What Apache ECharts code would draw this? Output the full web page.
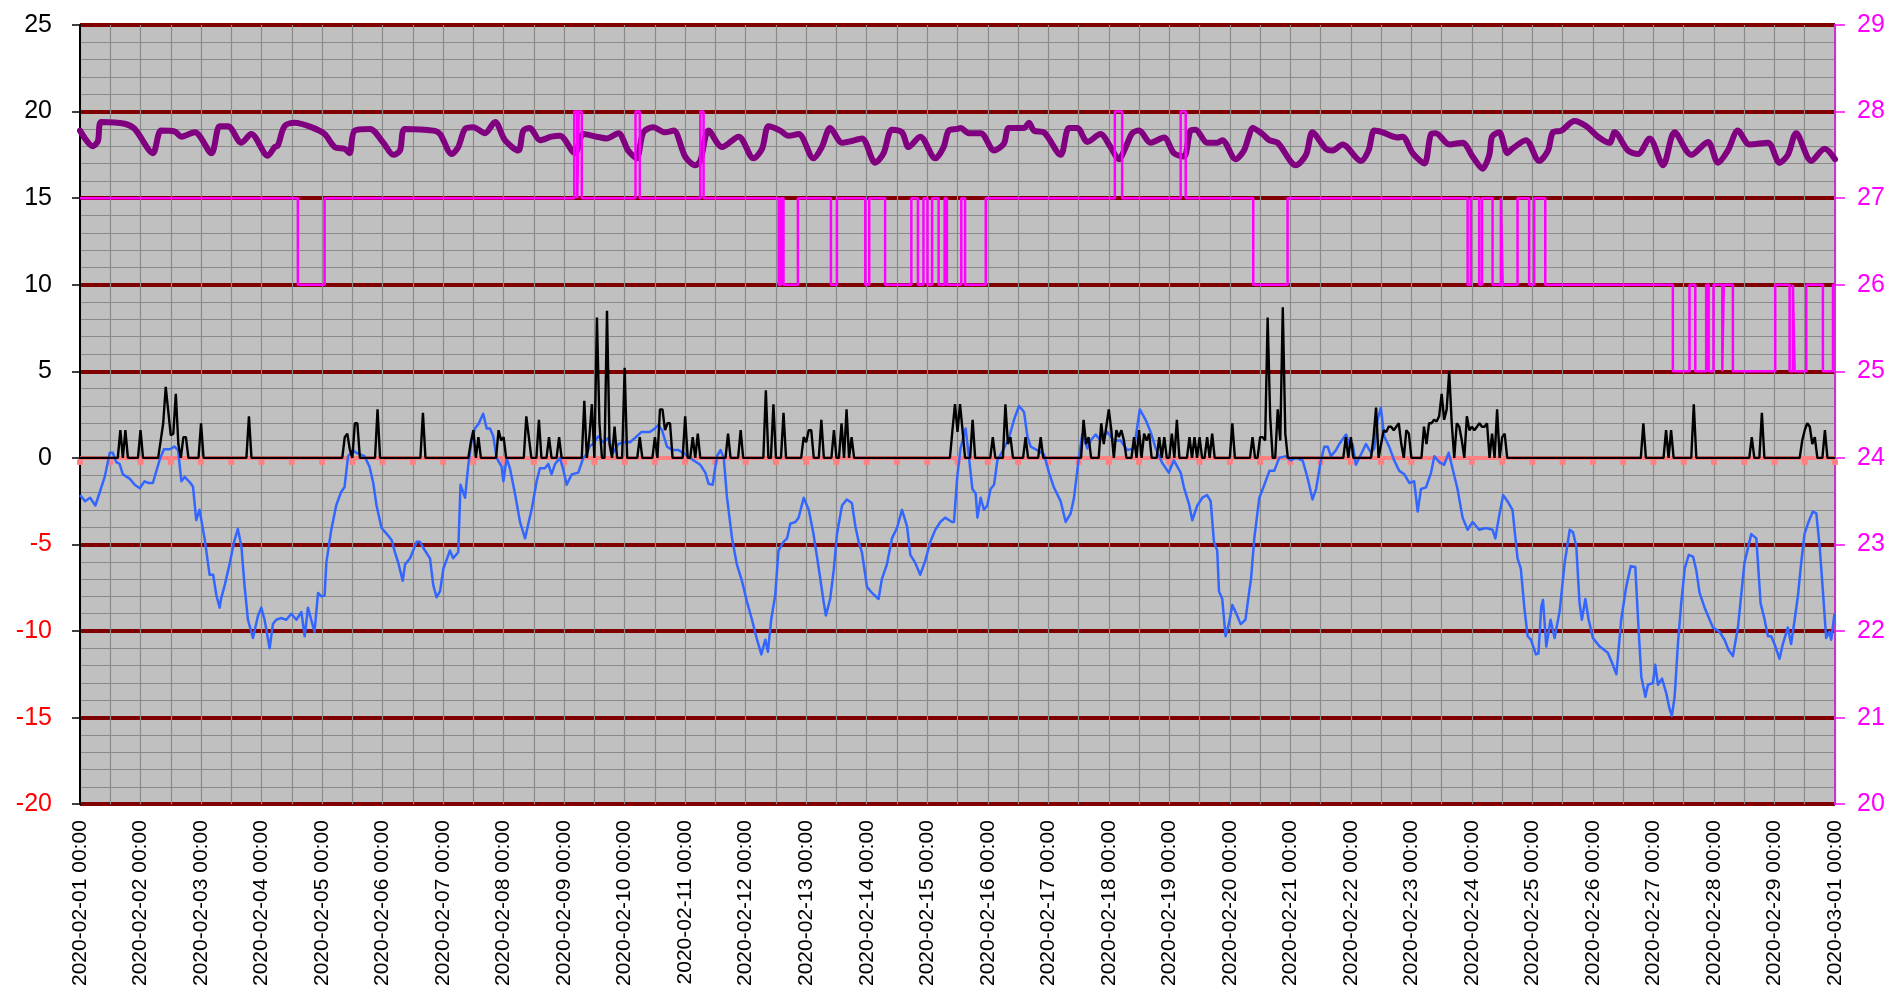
<!DOCTYPE html>
<html><head><meta charset="utf-8">
<script src="https://cdn.jsdelivr.net/npm/echarts@6/dist/echarts.min.js"></script>
<style>html,body{margin:0;padding:0;background:#fff}#c{width:1890px;height:989px}</style>
</head><body><div id="c"></div>
<script>
// x values are hours since 2020-02-01 00:00
const dayLabels = ['2020-02-01 00:00','2020-02-02 00:00','2020-02-03 00:00','2020-02-04 00:00','2020-02-05 00:00','2020-02-06 00:00','2020-02-07 00:00','2020-02-08 00:00','2020-02-09 00:00','2020-02-10 00:00','2020-02-11 00:00','2020-02-12 00:00','2020-02-13 00:00','2020-02-14 00:00','2020-02-15 00:00','2020-02-16 00:00','2020-02-17 00:00','2020-02-18 00:00','2020-02-19 00:00','2020-02-20 00:00','2020-02-21 00:00','2020-02-22 00:00','2020-02-23 00:00','2020-02-24 00:00','2020-02-25 00:00','2020-02-26 00:00','2020-02-27 00:00','2020-02-28 00:00','2020-02-29 00:00','2020-03-01 00:00'];

const purplePts = [[0,18.9],[5.2,18.0],[7.1,18.3],[8.5,19.4],[17.7,19.3],[21.7,19.0],[28.9,17.6],[32.2,18.9],[37.5,18.85],[40.2,18.55],[45.5,18.8],[52.1,17.6],[55.4,19.15],[58.7,19.15],[64,18.2],[67.9,18.7],[74.5,17.45],[77.2,17.95],[78.5,18.05],[81.1,19.15],[85.1,19.35],[91.7,19.1],[97,18.7],[101,17.95],[104.9,17.85],[106.9,17.6],[108.9,18.9],[115,19.0],
[120.3,18.2],[124.3,17.5],[126.9,17.75],[128.9,19.0],[140.1,18.9],[142.8,18.7],[147.4,17.55],[150,17.95],[152.7,19.0],[156,19.1],[160.6,18.75],[164.6,19.4],[168.5,18.35],[173.8,17.75],[175.8,18.9],[178.4,19.05],[182.4,18.35],[187,18.55],[190.3,18.6],[196.3,17.6],[199.6,18.7],[204.9,18.55],[208.8,18.45],[213.5,18.75],[217.4,17.75],[220.7,17.3],[223.4,18.8],[227.3,19.1],[232,18.8],
[235.4,18.9],[240,17.4],[244,16.9],[246,17.15],[249.3,18.9],[254.6,17.95],[261.2,18.55],[267.1,17.3],[270.5,17.85],[273.1,19.15],[277.7,18.9],[281,18.6],[285,18.7],[290.9,17.3],[294.2,17.95],[297.5,19.05],[302.2,18.2],[306,18.3],[310.1,18.45],[315.4,17.05],[318.7,17.6],[322,18.95],[326,18.8],[328.6,17.95],[333.2,18.55],[339.2,17.3],[342.5,17.95],[344.5,18.9],[347.8,19.0],
[349.2,19.05],[352.5,18.75],[357.2,18.75],[362.5,17.75],[366.4,18.15],[368.4,19.05],[374.4,19.05],[376.3,19.35],[378.3,18.9],[382.3,18.8],[388.9,17.5],[392.2,19.05],[395.5,19.05],[399.5,18.25],[404.7,18.7],[408.7,17.95],[412,17.25],[414.7,17.95],[417.3,18.75],[420,18.9],[424.6,18.2],[429.9,18.5],[433.8,17.6],[437.8,17.4],[440.4,18.9],[442.4,18.95],[447,18.2],[451,18.2],[453,18.35],[458.3,17.25],[461.6,17.75],[463.6,18.6],
[465,19.05],[469,18.7],[471.6,18.35],[475,18.2],[482.2,16.9],[486.2,17.5],[488.8,18.8],[494.1,17.85],[496.8,17.75],[500.7,18.1],[508,17.15],[511,17.75],[513.3,18.9],[516.6,18.8],[522.5,18.5],[524.5,18.55],[528.5,17.6],[533.1,17.0],[535.8,18.7],[537.7,18.75],[543,18.1],[548.3,18.2],[552.3,17.4],[556.2,16.7],[558.9,17.5],[560,18.55],[562.8,18.8],[566.1,17.6],[568,17.85],[573.4,18.35],[578.7,17.15],
[582.2,17.75],[584.1,18.8],[587.5,18.9],[592.7,19.45],[597.4,19.15],[602,18.55],[606.6,18.2],[608.6,18.8],[613.9,17.75],[617.9,17.55],[622.5,18.45],[627.8,16.9],[632.4,18.8],[639,17.5],[645.6,18.25],[649.6,17.05],[653.5,17.75],[657.5,18.9],[662.1,18.1],[669.4,18.2],[674,17.05],[677.3,17.5],[680.6,18.75],[686.6,17.15],[691.9,17.85],[696,17.25]];

const bluePts = [[0,-2.15],[2,-2.5],[4,-2.3],[6.1,-2.75],[7.8,-2.0],[9.8,-1.1],[11.8,0.3],[13,0.3],[14.4,-0.25],[15.7,-0.35],[17,-0.95],[19.7,-1.2],[21.7,-1.55],[23.7,-1.75],[25.6,-1.35],[27,-1.45],[28.9,-1.45],[31.6,-0.1],[33.3,0.5],[35.6,0.5],[37.5,0.65],[38.9,0.45],[40.2,-1.35],[41.5,-1.1],[43.5,-1.4],[44.8,-1.65],[46.1,-3.6],[47.4,-3.0],[49.4,-4.65],[51.4,-6.75],[52.8,-6.75],[54.1,-7.95],[55.4,-8.65],[56,-8.1],[57.4,-7.35],[59.3,-6.15],[61.1,-4.85],[62.6,-4.1],[64,-5.1],[65.3,-7.45],[66.6,-9.35],[68.6,-10.4],[70.6,-9.1],[71.9,-8.65],[73.2,-9.35],[75.2,-11.0],[76.5,-9.6],[77.8,-9.35],[79.8,-9.25],[81.8,-9.35],[83.8,-9.0],[85.8,-9.35],[87.8,-8.9],[89.1,-10.3],[90.4,-8.65],[91.7,-9.35],[93,-10.05],[94.4,-7.8],[95.7,-8.0],[97,-7.95],[97.7,-6.05],[99.6,-4.2],[101.6,-2.75],[103.6,-1.95],[104.9,-1.7],[106.3,0.1],[108.2,0.45],[109.5,0.3],[112.8,0.1],[114.8,-0.5],
[116.3,-1.45],[117.6,-2.75],[119.6,-4.05],[122.3,-4.5],[123.6,-4.75],[124.9,-5.45],[126.2,-6.05],[128,-7.1],[128.9,-6.15],[130.9,-5.8],[133.5,-4.85],[134.8,-4.85],[136.8,-5.35],[138.8,-5.8],[140.1,-7.35],[141.4,-8.05],[142.8,-7.7],[144.1,-6.4],[146.1,-5.6],[146.7,-5.35],[148,-5.8],[150,-5.45],[150.9,-1.55],[152.7,-2.3],[154,-0.4],[155.3,1.0],[156.6,1.7],[158,1.95],[159.9,2.55],[161.3,1.7],[162.6,1.7],[163.9,1.25],[165.2,0.0],[167.2,-0.5],[167.9,-1.35],[169.2,0.0],[170.5,-0.6],[172.5,-2.05],[174.5,-3.7],[176.5,-4.65],[177.8,-3.8],[179.1,-3.0],[181.1,-1.35],[182.4,-0.6],[184.4,-0.6],[185.7,-0.35],[187,-0.95],[188.4,-0.35],[190.3,0.0],[191.7,-0.7],[193,-1.55],[195,-0.95],[197.6,-0.85],[199.6,0.0],[200.9,0.2],[202.2,0.7],[203.5,0.8],[205.5,1.25],[207.5,0.9],[209.5,1.15],[211.5,0.3],[213.5,0.8],[215.4,0.9],[218.1,0.9],[220.1,1.15],[222.7,1.5],[226,1.5],[228,1.7],[229.3,1.9],[230.8,1.6],[232.8,0.65],
[234.8,0.45],[237.4,0.45],[240.1,0.2],[243.4,-0.15],[246,-0.4],[248,-0.85],[249.3,-1.5],[250.9,-1.55],[252.6,0.1],[254,0.45],[255.3,0.0],[256.6,-2.3],[258.6,-4.65],[260.5,-6.15],[262.5,-7.1],[264.5,-8.3],[266.5,-9.35],[268.5,-10.5],[270.2,-11.35],[271.8,-10.5],[272.8,-11.2],[274.1,-9.35],[275.7,-7.95],[277,-5.35],[279,-4.85],[280.4,-4.65],[281.7,-3.8],[283.7,-3.7],[285,-3.45],[287,-2.3],[289,-3.0],[290.9,-4.4],[292.9,-6.3],[294.9,-8.3],[295.8,-9.1],[297.5,-8.15],[298.9,-6.5],[300.2,-4.4],[302.2,-2.75],[304.1,-2.4],[306.1,-2.6],[307.5,-3.95],[308.8,-4.85],[310.1,-5.45],[312.1,-7.45],[314.1,-7.8],[316.7,-8.15],[318,-7.0],[320,-6.15],[322,-4.65],[324,-4.05],[326,-3.0],[328,-3.95],[329.3,-5.6],[331.2,-6.05],[333.2,-6.75],[335.2,-5.95],[337.2,-4.85],[339.2,-4.15],[341.2,-3.7],[343.1,-3.45],[345.8,-3.7],
[346.6,-3.7],[347.9,-1.1],[349.2,0.55],[351.2,1.7],[352.5,0.1],[353.9,-1.8],[355.2,-2.05],[355.9,-3.45],[357.2,-2.3],[358.5,-3.0],[359.8,-2.75],[361.1,-1.8],[362.5,-1.55],[363.8,-0.15],[366.4,0.55],[368.4,1.15],[370.4,2.2],[372.4,3.0],[374.4,2.65],[375.7,1.25],[377,0.65],[379.6,0.45],[382.3,0.2],[384.3,-0.85],[386.2,-1.7],[388.9,-2.5],[390.9,-3.7],[392.9,-3.2],[394.2,-2.3],[396.2,0.1],[397.5,1.35],[399.5,0.55],[400.8,1.0],[402.8,1.35],[404.7,1.0],[407.4,1.5],[410,1.0],[412.7,1.0],[415.3,0.45],[418,0.55],[420.3,2.8],[422.6,2.2],[424.6,1.5],[426.6,0.55],[429.2,-0.3],[431.8,-0.85],[433.8,-0.15],[436.5,-0.85],[437.8,-1.7],[439.8,-2.65],[441.1,-3.6],[443.1,-2.75],[445.1,-2.3],[447,-2.15],[448.4,-2.5],[449.7,-4.85],[451,-5.35],[451.7,-7.7],[453,-8.15],[454.3,-10.3],[455.6,-9.6],[457,-8.5],[458.3,-8.9],[460.3,-9.6],[462.2,-9.35],[463.8,-7.6],[464.4,-7.0],
[465.7,-4.65],[467.7,-2.3],[469.7,-1.55],[471.7,-0.75],[473.6,-0.75],[475.6,0.0],[478.3,0.1],[480.2,-0.15],[482.2,0.0],[484.9,-0.15],[486.9,-1.2],[488.8,-2.4],[490.2,-1.8],[492.1,-0.15],[493.5,0.65],[494.8,0.65],[496.1,0.1],[498.1,0.45],[499.4,0.8],[502.1,1.35],[503.4,0.8],[504.7,0.8],[506,-0.4],[508,0.2],[510,0.8],[512,0.3],[513.3,0.55],[514.6,2.2],[515.9,2.9],[517.2,1.25],[519.2,0.65],[521.2,-0.15],[523.2,-0.75],[525.2,-0.95],[527.2,-1.45],[529.1,-1.35],[530.5,-3.1],[531.8,-1.8],[533.8,-1.7],[535.8,-0.85],[537.1,0.1],[539.1,-0.25],[541,-0.4],[542.8,0.3],[544.3,-0.6],[546.3,-1.8],[548.3,-3.45],[550.3,-4.15],[552.3,-3.7],[554.9,-4.15],[557.6,-4.05],[560.2,-4.15],[561.3,-4.65],[562.8,-3.35],[564.4,-2.15],[566.1,-2.5],[568.1,-3.0],[570.1,-5.8],[571.4,-6.4],[572.8,-8.65],[574.1,-10.3],[575.4,-10.5],[577.4,-11.35],[578.4,-11.3],[579.5,-8.6],[580.2,-8.2],
[581.5,-10.9],[583.2,-9.35],[584.8,-10.4],[586.8,-8.85],[588.8,-6.05],[590.8,-4.15],[592.1,-4.3],[593.4,-5.1],[594.7,-8.4],[595.6,-9.35],[597,-8.15],[598.3,-9.35],[600,-10.4],[602.7,-10.9],[605.9,-11.25],[607.9,-11.95],[609.3,-12.5],[611.2,-9.35],[613.2,-7.45],[615,-6.25],[616.8,-6.3],[617.9,-9.35],[619.2,-12.65],[620.8,-13.8],[621.8,-13.1],[623.8,-13.0],[624.7,-11.95],[625.8,-13.1],[627.4,-12.75],[629.1,-13.6],[630.4,-14.5],[631.3,-14.9],[632.4,-13.8],[633.7,-10.75],[635,-8.4],[636.4,-6.4],[638,-5.6],[639.7,-5.7],[641,-6.5],[642.3,-7.8],[644.3,-8.65],[646.3,-9.35],[647.6,-9.8],[650.2,-10.05],[652.2,-10.5],[653.8,-11.1],[655.5,-11.45],[657.5,-9.8],[660.1,-6.05],[662.8,-4.4],[664.8,-4.65],[666.5,-8.4],[668.1,-9.35],[669.4,-10.3],[670.7,-10.3],[672,-10.75],[674,-11.6],[675.3,-10.75],[677.3,-9.8],[678.6,-10.75],[680,-9.35],[681.3,-7.95],[682.6,-6.05],[683.9,-4.4],[685.5,-3.7],[687.2,-3.1],[688.6,-3.2],[689.9,-5.1],[691.2,-7.7],[692.5,-10.4],[693.8,-10.05],[694.5,-10.5],[695.8,-9.0]];

// hourly non-zero values of the black series (all other hours are 0)
const blackEvents = [[16,1.6],[18,1.6],[24,1.6],
[32,1.0],[33,2.0],[34,4.1],[35,2.7],[36,1.3],[37,1.4],[38,3.7],[39,0.8],[41,1.2],[42,1.2],
[48,2.0],[67,2.4],[105,1.2],[106,1.4],[107,0.5],[109,2.0],[110,2.0],
[118,2.8],[136,2.6],[155,0.9],[156,1.6],[158,1.2],[166,1.6],[167,1.0],[168,1.2],
[177,2.4],[178,1.2],[182,2.2],[186,1.2],[190,1.2],
[200,3.3],[202,1.2],[203,3.1],[205,8.1],[206,2.0],[209,8.5],[210,0.8],[212,1.8],[216,5.2],
[222,1.2],[228,1.2],[230,2.8],[231,2.8],[232,1.6],[233,2.0],[234,2.0],
[240,2.4],[243,1.2],[245,1.4],[257,1.4],[262,1.6],[272,3.9],[275,3.1],[279,2.6],
[287,1.2],[288,0.9],[289,1.6],[290,1.6],[294,2.2],[299,1.6],[302,2.0],[304,2.8],[306,1.2],
[346,1.6],[347,3.1],[348,1.5],[349,3.1],[350,1.6],[354,2.2],
[362,1.2],[367,3.1],[368,0.8],[369,1.2],[375,1.2],[381,1.2],
[398,2.2],[399,0.8],[400,1.2],[405,2.0],[406,0.8],[407,1.8],[408,2.8],[409,1.6],[411,1.6],[412,1.2],[413,1.6],[414,1.0],
[418,1.2],[420,1.6],[422,1.4],[423,1.0],[424,1.4],[428,1.2],[430,1.2],[433,1.4],[435,2.2],
[440,1.2],[442,1.2],[444,1.2],[447,1.2],[449,1.4],[457,2.0],
[465,1.2],[468,1.2],[469,1.2],[470,1.0],[471,8.1],[472,2.4],[475,2.8],[476,1.0],[477,8.7],[478,1.4],
[502,1.2],[504,1.2],[513,1.2],[514,2.9],[516,0.8],[517,1.6],[518,1.5],[519,1.8],[520,1.8],[521,1.6],[522,1.8],[523,2.0],[524,0.8],[526,1.6],[527,1.4],
[533,1.8],[534,0.8],[535,2.0],[536,2.0],[537,2.2],[538,2.1],[539,2.4],[540,3.7],[541,2.2],[542,2.8],[543,5.0],[544,2.0],[546,2.0],[547,1.8],[548,1.0],[550,2.4],[551,1.6],[552,1.8],[553,1.6],[554,1.8],[555,2.0],[556,1.8],[557,1.8],[558,2.0],[560,1.4],[562,2.8],[564,1.2],[565,1.4],
[620,2.0],[629,1.6],[631,1.6],[640,3.1],[663,1.2],[667,2.6],
[683,1.0],[684,1.6],[685,2.0],[686,1.8],[687,0.8],[688,1.2],[692,1.6]];

// magenta: [hour the state starts, state] on the right axis
const magentaSteps = [[0,27],[86.4,26],[97,27],[196,28],[197.2,27],[197.8,28],[199,27],[220.3,28],[222,27],[246,28],[247.3,27],[277.1,26],[278,27],[279,26],[284.7,27],[297.8,26],[300.2,27],[311.4,26],[313,27],[319.3,26],[329.7,27],[332.3,26],[334.5,27],[336.1,26],[337.9,27],[340.5,26],[342.9,27],[343.8,26],[349.5,27],[351,26],[359.2,27],[410.4,28],[413.3,27],[436.5,28],[438.5,27],[465.3,26],[478.9,27],[550.3,26],[551.6,27],[554.9,26],[556,27],[560.2,26],[563.5,27],[564.2,26],[570.1,27],[574.7,26],[576.7,27],[581.1,26],[631.7,25],[638.3,26],[640.6,25],[644.9,26],[645.9,25],[647.8,26],[651.3,25],[651.9,26],[655.5,25],[672.3,26],[678,25],[679.3,26],[680,25],[684.6,26],[691.2,25],[695.2,26],[696,26]];

// reference series: value 0 every 12 hours
const refHours = [0,12,24,36,48,60,72,84,96,108,120,132,144,156,168,180,192,204,216,228,240,252,264,276,288,300,312,324,336,348,360,372,384,396,408,420,432,444,456,468,480,492,504,516,528,540,552,564,576,588,600,612,624,636,648,660,672,684,696];
const refValue = 0;

const FONT = '"Liberation Sans", Arial, sans-serif';
const evMap = new Map(blackEvents.map(e => [e[0], e[1]]));
const blackData = [];
for (let h = 0; h <= 696; h++) blackData.push([h, evMap.has(h) ? evMap.get(h) : 0]);
const refData = refHours.map(h => [h, refValue]);

const chart = echarts.init(document.getElementById('c'), null, {renderer: 'canvas'});
chart.setOption({
  animation: false,
  backgroundColor: '#ffffff',
  grid: {left: 80, right: 55, top: 25, bottom: 184, show: true, backgroundColor: '#c0c0c0', borderWidth: 0},
  xAxis: {
    type: 'value', min: 0, max: 696, interval: 12,
    axisLine: {show: false, onZero: false},
    axisTick: {show: false},
    splitLine: {show: true, lineStyle: {color: '#8a8a8a', width: 1.2}},
    axisLabel: {rotate: 90, fontSize: 21, fontFamily: FONT, color: '#000', margin: 16,
      formatter: v => (v % 24 === 0 ? dayLabels[v / 24] : '')}
  },
  yAxis: [{
    type: 'value', min: -20, max: 25, interval: 5, position: 'left',
    axisLine: {show: true, lineStyle: {color: '#000', width: 2}},
    axisTick: {show: true, length: 8, lineStyle: {color: '#000', width: 1.5}},
    minorTick: {show: false, splitNumber: 5},
    splitLine: {show: true, lineStyle: {color: '#800000', width: 4}},
    minorSplitLine: {show: true, lineStyle: {color: '#8a8a8a', width: 1.2}},
    axisLabel: {margin: 28, fontSize: 25, fontFamily: FONT,
      formatter: v => (v < 0 ? '{n|' + v + '}' : '{p|' + v + '}'),
      rich: {n: {color: '#ff0000', fontSize: 25, fontFamily: FONT}, p: {color: '#000', fontSize: 25, fontFamily: FONT}}}
  }, {
    type: 'value', min: 20, max: 29, interval: 1, position: 'right',
    axisLine: {show: true, lineStyle: {color: '#cc33cc', width: 2}},
    axisTick: {show: true, length: 10, lineStyle: {color: '#ff00ff', width: 1.5}},
    splitLine: {show: false},
    axisLabel: {margin: 22, fontSize: 25, fontFamily: FONT, color: '#ff00ff'}
  }],
  series: [
    {name: 'purple', type: 'line', yAxisIndex: 0, data: purplePts, showSymbol: false, smooth: 0.3,
      lineStyle: {color: '#800080', width: 6, join: 'round', cap: 'round'}, itemStyle: {color: '#800080'}, z: 3},
    {name: 'ref', type: 'line', yAxisIndex: 0, data: refData, showSymbol: true, showAllSymbol: true,
      symbol: 'roundRect', symbolSize: [6, 6], symbolOffset: [0, 4],
      lineStyle: {color: '#ff8080', width: 4}, itemStyle: {color: '#ff8080'}, z: 3},
    {name: 'blue', type: 'line', yAxisIndex: 0, data: bluePts, showSymbol: false,
      lineStyle: {color: '#3366ff', width: 2.5, join: 'round'}, itemStyle: {color: '#3366ff'}, z: 4},
    {name: 'black', type: 'line', yAxisIndex: 0, data: blackData, showSymbol: false,
      lineStyle: {color: '#000000', width: 2.4}, itemStyle: {color: '#000'}, z: 5},
    {name: 'magenta', type: 'line', yAxisIndex: 1, data: magentaSteps, step: 'end', showSymbol: false,
      lineStyle: {color: '#ff00ff', width: 2.5}, itemStyle: {color: '#ff00ff'}, z: 6}
  ]
});
</script>
</body></html>
